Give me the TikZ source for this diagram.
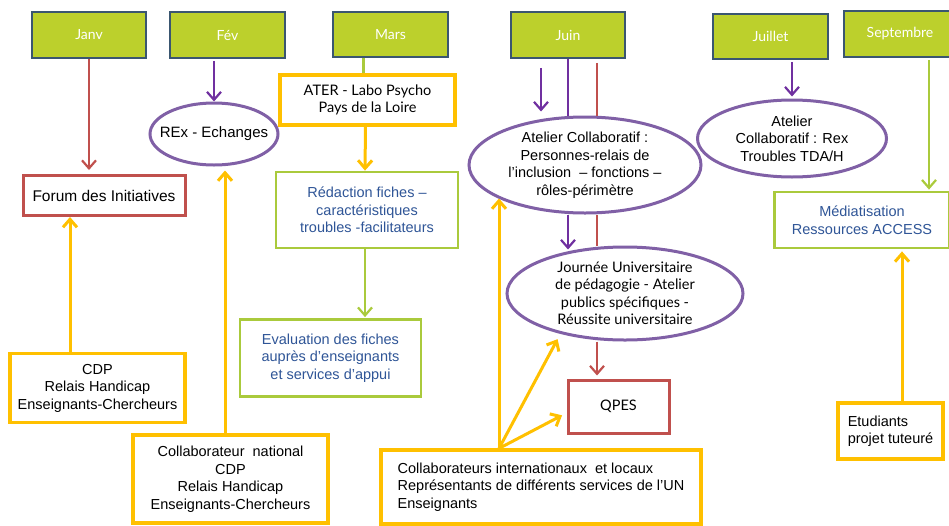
\documentclass[tikz,border=0pt]{standalone}
\usepackage{fontspec}
\setmainfont{Liberation Sans}
\newfontfamily\gill{Lato}
\usetikzlibrary{arrows.meta,shapes.geometric}
\definecolor{mgreen}{RGB}{188,208,44}
\definecolor{mborder}{RGB}{58,86,112}
\definecolor{orng}{RGB}{255,192,0}
\definecolor{redb}{RGB}{192,80,77}
\definecolor{purp}{RGB}{128,96,166}
\definecolor{purparr}{RGB}{112,48,160}
\definecolor{lgreen}{RGB}{170,202,60}
\definecolor{tblue}{RGB}{47,85,151}
\tikzset{
  month/.style={draw=mborder, line width=1.8pt, fill=mgreen, text=white, font=\gill\fontsize{14}{16}\selectfont, inner sep=0pt},
  box/.style={draw, fill=white, line width=3.2pt, align=center, inner sep=0pt, font=\fontsize{14.5}{17.5}\selectfont},
  obox/.style={box, draw=orng},
  rbox/.style={box, draw=redb, line width=3pt},
  gbox/.style={box, draw=lgreen, line width=2.8pt, text=tblue},
  ell/.style={ellipse, draw=purp, fill=white, line width=3pt, inner sep=0pt},
  lbl/.style={align=center, inner sep=0pt, font=\fontsize{14.5}{17.5}\selectfont},
  tip/.style={-{Straight Barb[length=8pt,width=14pt]}},
  oarr/.style={tip, draw=orng, line width=3pt},
  parr/.style={tip, draw=purparr, line width=2.2pt},
  rarr/.style={draw=redb, line width=2.2pt},
  garr/.style={draw=lgreen, line width=2.2pt},
}
\begin{document}
\begin{tikzpicture}[x=1pt,y=-1pt]
\useasboundingbox (0,0) rectangle (949,525);
% months
\node[month, minimum width=114, minimum height=46] (janv) at (89,35) {Janv};
\node[month, minimum width=115, minimum height=46] (fev) at (227.5,35) {Fév};
\node[month, minimum width=115, minimum height=45] (mars) at (390.5,34.5) {Mars};
\node[month, minimum width=114, minimum height=46] (juin) at (568,35) {Juin};
\node[month, minimum width=115, minimum height=45] (juillet) at (770.5,36.5) {Juillet};
\node[month, minimum width=112, minimum height=46] (sept) at (900,34) {Septembre};
% boxes
\node[rbox, minimum width=162, minimum height=40, font=\fontsize{15.5}{17.5}\selectfont] (forum) at (104,195.5) {Forum des Initiatives};
\node[ell, minimum width=128, minimum height=62, label={[lbl, font=\fontsize{15}{17.5}\selectfont]center:REx - Echanges}] (rex) at (214,134) {};
\node[obox, minimum width=175, minimum height=50, font=\gill\fontsize{14.5}{17.5}\selectfont] (ater) at (367.5,100) {ATER - Labo Psycho\\Pays de la Loire};
\node[gbox, minimum width=182, minimum height=76] (redac) at (367,210) {Rédaction fiches –\\caractéristiques\\troubles -facilitateurs};
\node[gbox, minimum width=181, minimum height=77] (eval) at (330.5,358) {Evaluation des fiches\\auprès d’enseignants\\et services d’appui};
\node[obox, minimum width=175, minimum height=69] (cdp) at (97.5,388) {CDP\\Relais Handicap\\Enseignants-Chercheurs};
\node[obox, minimum width=195, minimum height=88] (cnat) at (230.5,479) {Collaborateur\ \ national\\CDP\\Relais Handicap\\Enseignants-Chercheurs};
\node[ell, minimum width=232, minimum height=96, label={[lbl]center:{Atelier Collaboratif :\\Personnes-relais de\\l'inclusion\ \ – fonctions –\\rôles-périmètre}}] (atcol) at (585,165) {};
\node[ell, minimum width=236, minimum height=93, label={[lbl, font=\gill\fontsize{14.5}{17.5}\selectfont]center:{Journée Universitaire\\de pédagogie - Atelier\\publics spécifiques -\\Réussite universitaire}}] (journee) at (625,293.5) {};
\node[rbox, minimum width=101, minimum height=53, font=\gill\fontsize{14.5}{17.5}\selectfont] (qpes) at (618.5,406.5) {QPES};
\node[obox, minimum width=320, minimum height=74, align=left] (cint) at (541,487) {Collaborateurs internationaux\ \ et locaux\\Représentants de différents services de l'UN\\Enseignants};
\node[ell, minimum width=189, minimum height=77, label={[lbl]center:{Atelier\\Collaboratif : Rex\\Troubles TDA/H}}] (atjuil) at (792,138.5) {};
\node[gbox, minimum width=175, minimum height=56] (media) at (862,220) {Médiatisation\\Ressources ACCESS};
\node[obox, minimum width=105, minimum height=56, align=left] (etud) at (890.5,431) {Etudiants\\projet tuteuré};
% connectors
\draw[rarr, tip] (janv.south) -- ([yshift=4pt]janv.south |- forum.north);
\draw[parr] ([yshift=-2pt]fev.south -| rex.north) -- (rex.north);
\draw[garr] ([xshift=-4pt]ater.north |- mars.south) -- ([xshift=-4pt]ater.north);
\draw[oarr] ([xshift=-2pt]ater.south) -- ([xshift=-2pt]redac.north);
\draw[garr, tip] ([xshift=-2pt]redac.south) -- ([xshift=-2pt, yshift=1pt]redac.south |- eval.north);
\draw[oarr] ([xshift=-27.5pt]cdp.north) -- ([xshift=-27.5pt]cdp.north |- forum.south);
\draw[oarr] ([xshift=-5.5pt]cnat.north) -- ([xshift=-5.5pt, yshift=-4pt]cnat.north |- rex.south);
% Juin
\coordinate (jr) at ([xshift=29pt]juin.south);
\draw[parr] ([xshift=-27pt, yshift=-9pt]juin.south) -- ([xshift=-27pt, yshift=4pt]juin.south |- atcol.north);
\draw[purparr, line width=2.2pt] (juin.south) -- (juin.south |- atcol.north);
\draw[parr] (juin.south |- atcol.south) -- ([yshift=-4pt]juin.south |- journee.north);
\draw[rarr] ([yshift=-4pt]jr) -- (jr |- atcol.north);
\draw[rarr] (jr |- atcol.south) -- (jr |- journee.north);
\draw[rarr, tip] (jr |- journee.south) -- ([yshift=3pt]jr |- qpes.north);
\coordinate (ci) at ([xshift=-42pt]cint.north);
\draw[oarr] (ci) -- ([xshift=-42pt, yshift=16pt]cint.north |- atcol.south);
\draw[oarr, shorten >=6pt] (ci) -- (journee.212);
\draw[oarr, shorten >=5pt] (ci) -- ([yshift=-6.5pt]qpes.west);
% Juillet, Septembre
\draw[parr] ([yshift=-2pt]juillet.south -| atjuil.north) -- ([yshift=2pt]atjuil.north);
\draw[garr, tip] ([xshift=29pt, yshift=-2pt]sept.south) -- ([xshift=29pt, yshift=1pt]sept.south |- media.north);
\draw[oarr] ([xshift=11.5pt]etud.north) -- ([xshift=11.5pt, yshift=-2pt]etud.north |- media.south);
\end{tikzpicture}
\end{document}
